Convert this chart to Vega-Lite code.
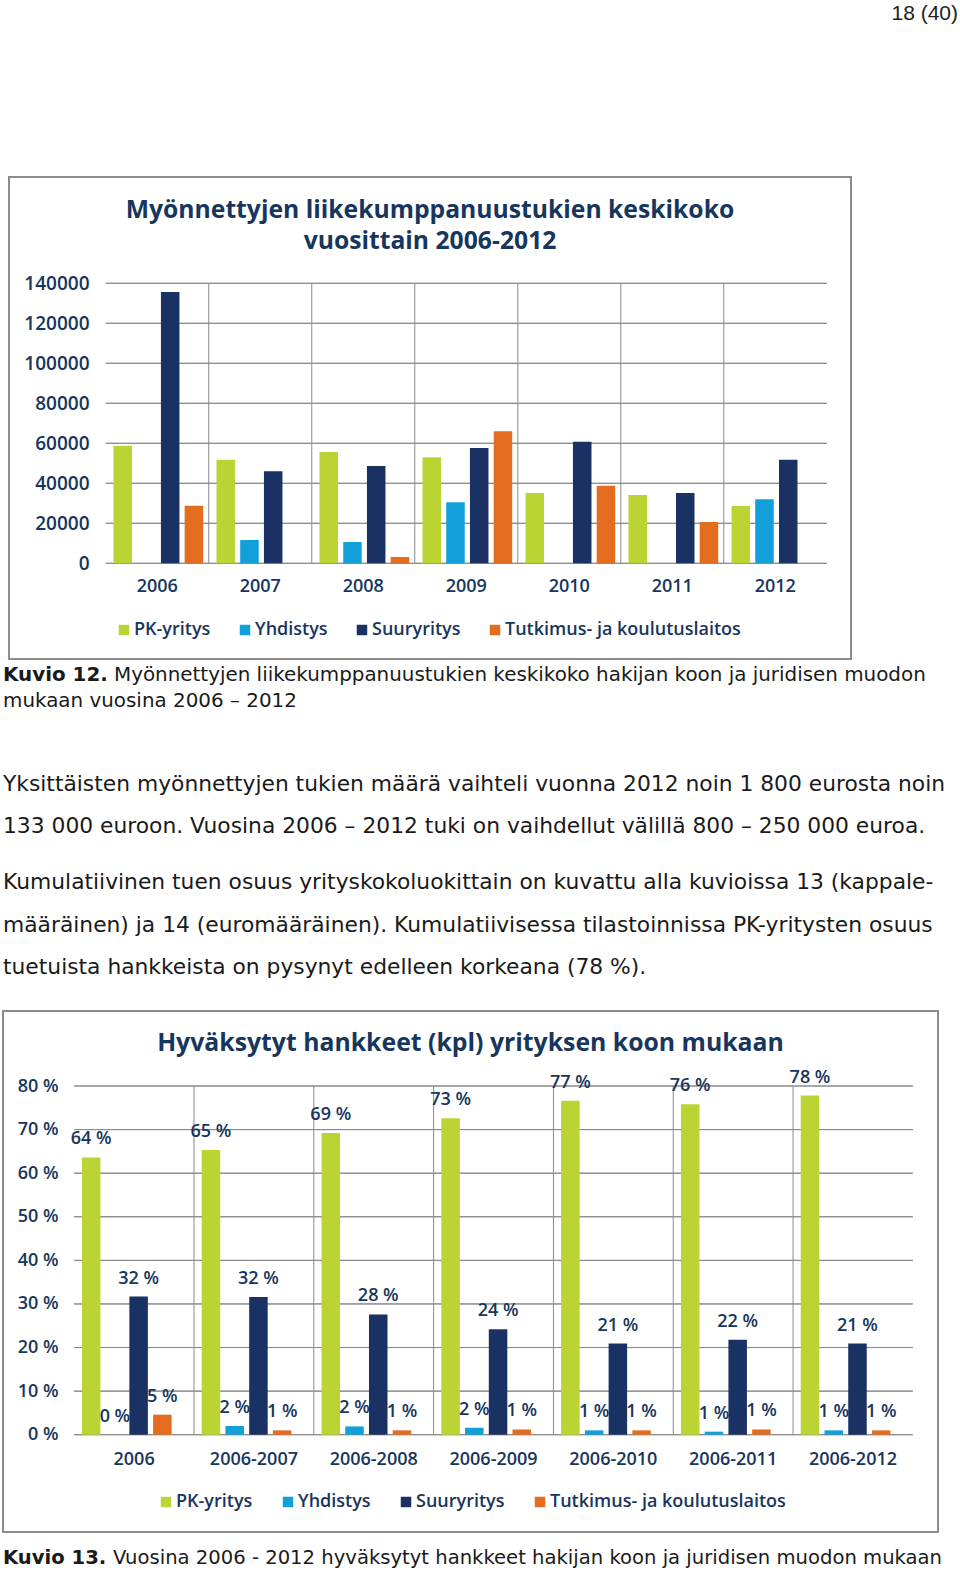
{
  "$schema": "https://vega.github.io/schema/vega-lite/v6.json",
  "background": "white",
  "padding": {"left": 2, "top": 3, "right": 3, "bottom": 0},
  "spacing": 0,
  "resolve": {"scale": {"color": "independent", "x": "independent", "y": "independent"}, "legend": {"color": "independent"}},
  "config": {
    "view": {"stroke": null},
    "concat": {"spacing": 0},
    "title": {"offset": 0}
  },
  "datasets": {
    "c1": [
      {"year": "2006", "s": "PK-yritys", "v": 58800},
      {"year": "2006", "s": "Yhdistys", "v": 0},
      {"year": "2006", "s": "Suuryritys", "v": 135650},
      {"year": "2006", "s": "Tutkimus- ja koulutuslaitos", "v": 28800},
      {"year": "2007", "s": "PK-yritys", "v": 51800},
      {"year": "2007", "s": "Yhdistys", "v": 11650},
      {"year": "2007", "s": "Suuryritys", "v": 46000},
      {"year": "2007", "s": "Tutkimus- ja koulutuslaitos", "v": 0},
      {"year": "2008", "s": "PK-yritys", "v": 55650},
      {"year": "2008", "s": "Yhdistys", "v": 10650},
      {"year": "2008", "s": "Suuryritys", "v": 48650},
      {"year": "2008", "s": "Tutkimus- ja koulutuslaitos", "v": 3150},
      {"year": "2009", "s": "PK-yritys", "v": 53000},
      {"year": "2009", "s": "Yhdistys", "v": 30500},
      {"year": "2009", "s": "Suuryritys", "v": 57650},
      {"year": "2009", "s": "Tutkimus- ja koulutuslaitos", "v": 66000},
      {"year": "2010", "s": "PK-yritys", "v": 35150},
      {"year": "2010", "s": "Yhdistys", "v": 0},
      {"year": "2010", "s": "Suuryritys", "v": 60800},
      {"year": "2010", "s": "Tutkimus- ja koulutuslaitos", "v": 38800},
      {"year": "2011", "s": "PK-yritys", "v": 34150},
      {"year": "2011", "s": "Yhdistys", "v": 0},
      {"year": "2011", "s": "Suuryritys", "v": 35150},
      {"year": "2011", "s": "Tutkimus- ja koulutuslaitos", "v": 20650},
      {"year": "2012", "s": "PK-yritys", "v": 28650},
      {"year": "2012", "s": "Yhdistys", "v": 32000},
      {"year": "2012", "s": "Suuryritys", "v": 51800},
      {"year": "2012", "s": "Tutkimus- ja koulutuslaitos", "v": 0}
    ],
    "c1g": [
      {"year": "2006", "vals": [0, 20000, 40000, 60000, 80000, 100000, 120000, 140000]},
      {"year": "2007", "vals": [0, 20000, 40000, 60000, 80000, 100000, 120000, 140000]},
      {"year": "2008", "vals": [0, 20000, 40000, 60000, 80000, 100000, 120000, 140000]},
      {"year": "2009", "vals": [0, 20000, 40000, 60000, 80000, 100000, 120000, 140000]},
      {"year": "2010", "vals": [0, 20000, 40000, 60000, 80000, 100000, 120000, 140000]},
      {"year": "2011", "vals": [0, 20000, 40000, 60000, 80000, 100000, 120000, 140000]},
      {"year": "2012", "vals": [0, 20000, 40000, 60000, 80000, 100000, 120000, 140000]}
    ],
    "c2": [
      {"g": "2006", "s": "PK-yritys", "v": 63.6, "lab": "64 %"},
      {"g": "2006", "s": "Yhdistys", "v": 0, "lab": "0 %"},
      {"g": "2006", "s": "Suuryritys", "v": 31.7, "lab": "32 %"},
      {"g": "2006", "s": "Tutkimus- ja koulutuslaitos", "v": 4.6, "lab": "5 %"},
      {"g": "2006-2007", "s": "PK-yritys", "v": 65.3, "lab": "65 %"},
      {"g": "2006-2007", "s": "Yhdistys", "v": 2.0, "lab": "2 %"},
      {"g": "2006-2007", "s": "Suuryritys", "v": 31.6, "lab": "32 %"},
      {"g": "2006-2007", "s": "Tutkimus- ja koulutuslaitos", "v": 1.0, "lab": "1 %"},
      {"g": "2006-2008", "s": "PK-yritys", "v": 69.2, "lab": "69 %"},
      {"g": "2006-2008", "s": "Yhdistys", "v": 1.9, "lab": "2 %"},
      {"g": "2006-2008", "s": "Suuryritys", "v": 27.6, "lab": "28 %"},
      {"g": "2006-2008", "s": "Tutkimus- ja koulutuslaitos", "v": 1.0, "lab": "1 %"},
      {"g": "2006-2009", "s": "PK-yritys", "v": 72.6, "lab": "73 %"},
      {"g": "2006-2009", "s": "Yhdistys", "v": 1.6, "lab": "2 %"},
      {"g": "2006-2009", "s": "Suuryritys", "v": 24.2, "lab": "24 %"},
      {"g": "2006-2009", "s": "Tutkimus- ja koulutuslaitos", "v": 1.2, "lab": "1 %"},
      {"g": "2006-2010", "s": "PK-yritys", "v": 76.6, "lab": "77 %"},
      {"g": "2006-2010", "s": "Yhdistys", "v": 1.0, "lab": "1 %"},
      {"g": "2006-2010", "s": "Suuryritys", "v": 20.9, "lab": "21 %"},
      {"g": "2006-2010", "s": "Tutkimus- ja koulutuslaitos", "v": 1.0, "lab": "1 %"},
      {"g": "2006-2011", "s": "PK-yritys", "v": 75.8, "lab": "76 %"},
      {"g": "2006-2011", "s": "Yhdistys", "v": 0.7, "lab": "1 %"},
      {"g": "2006-2011", "s": "Suuryritys", "v": 21.8, "lab": "22 %"},
      {"g": "2006-2011", "s": "Tutkimus- ja koulutuslaitos", "v": 1.2, "lab": "1 %"},
      {"g": "2006-2012", "s": "PK-yritys", "v": 77.8, "lab": "78 %"},
      {"g": "2006-2012", "s": "Yhdistys", "v": 1.0, "lab": "1 %"},
      {"g": "2006-2012", "s": "Suuryritys", "v": 20.9, "lab": "21 %"},
      {"g": "2006-2012", "s": "Tutkimus- ja koulutuslaitos", "v": 1.0, "lab": "1 %"}
    ],
    "c2g": [
      {"g": "2006", "vals": [0, 10, 20, 30, 40, 50, 60, 70, 80]},
      {"g": "2006-2007", "vals": [0, 10, 20, 30, 40, 50, 60, 70, 80]},
      {"g": "2006-2008", "vals": [0, 10, 20, 30, 40, 50, 60, 70, 80]},
      {"g": "2006-2009", "vals": [0, 10, 20, 30, 40, 50, 60, 70, 80]},
      {"g": "2006-2010", "vals": [0, 10, 20, 30, 40, 50, 60, 70, 80]},
      {"g": "2006-2011", "vals": [0, 10, 20, 30, 40, 50, 60, 70, 80]},
      {"g": "2006-2012", "vals": [0, 10, 20, 30, 40, 50, 60, 70, 80]}
    ]
  },
  "vconcat": [
    {
      "width": 955, "height": 152,
      "data": {"values": []},
      "mark": "text",
      "title": {"text": "18 (40)", "anchor": "end", "frame": "group", "orient": "top", "offset": 0, "font": "Liberation Sans", "fontSize": 21, "fontWeight": "normal", "color": "#222222"}
    },
    {
      "spacing": 4,
      "hconcat": [
        {"width": 1, "height": 1, "data": {"values": []}, "mark": "text"},
        {
          "width": 842, "height": 482,
          "view": {"stroke": "#8C8C8C", "strokeWidth": 2},
          "title": {"text": ["Myönnettyjen liikekumppanuustukien keskikoko", "vuosittain 2006-2012"], "anchor": "middle", "frame": "group", "offset": -77, "font": "Open Sans", "fontSize": 24.7, "fontWeight": "bold", "color": "#17365D", "lineHeight": 31},
          "layer": [
            {
              "data": {"name": "c1g"},
              "transform": [{"flatten": ["vals"]}],
              "mark": {"type": "rect", "fill": null, "stroke": "#8A8A8A", "strokeWidth": 1},
              "encoding": {
                "x": {"field": "year", "type": "nominal", "title": null,
                  "scale": {"domain": ["2006", "2007", "2008", "2009", "2010", "2011", "2012"], "paddingInner": 0, "paddingOuter": 0.587, "align": 0.8},
                  "axis": {"orient": "bottom", "offset": -82, "domain": false, "ticks": false, "grid": false, "labelPadding": 0, "labelAngle": 0, "labelFont": "Open Sans", "labelFontSize": 18, "labelFontWeight": 600, "labelColor": "#17365D"}},
                "y": {"field": "vals", "type": "quantitative", "title": null,
                  "scale": {"domain": [-47850, 193150], "nice": false},
                  "axis": {"values": [0, 20000, 40000, 60000, 80000, 100000, 120000, 140000], "format": "d", "offset": -80, "domain": false, "ticks": false, "grid": false, "labelPadding": 0, "labelFont": "Open Sans", "labelFontSize": 19, "labelFontWeight": 600, "labelColor": "#17365D"}},
                "y2": {"field": "vals"}
              }
            },
            {
              "data": {"name": "c1g"},
              "transform": [{"filter": "datum.year !== '2006'"}],
              "mark": {"type": "rule", "stroke": "#8A8A8A", "strokeWidth": 1},
              "encoding": {
                "x": {"field": "year", "type": "nominal", "bandPosition": 0, "title": null,
                  "scale": {"domain": ["2006", "2007", "2008", "2009", "2010", "2011", "2012"], "paddingInner": 0, "paddingOuter": 0.587, "align": 0.8},
                  "axis": {"orient": "bottom", "offset": -82, "domain": false, "ticks": false, "grid": false, "labelPadding": 0, "labelAngle": 0, "labelFont": "Open Sans", "labelFontSize": 18, "labelFontWeight": 600, "labelColor": "#17365D"}},
                "y": {"datum": 0, "type": "quantitative", "title": null,
                  "scale": {"domain": [-47850, 193150], "nice": false},
                  "axis": {"values": [0, 20000, 40000, 60000, 80000, 100000, 120000, 140000], "format": "d", "offset": -80, "domain": false, "ticks": false, "grid": false, "labelPadding": 0, "labelFont": "Open Sans", "labelFontSize": 19, "labelFontWeight": 600, "labelColor": "#17365D"}},
                "y2": {"datum": 140000}
              }
            },
            {
              "data": {"name": "c1"},
              "mark": {"type": "bar"},
              "encoding": {
                "x": {"field": "year", "type": "nominal", "title": null,
                  "scale": {"domain": ["2006", "2007", "2008", "2009", "2010", "2011", "2012"], "paddingInner": 0, "paddingOuter": 0.587, "align": 0.8},
                  "axis": {"orient": "bottom", "offset": -82, "domain": false, "ticks": false, "grid": false, "labelPadding": 0, "labelAngle": 0, "labelFont": "Open Sans", "labelFontSize": 18, "labelFontWeight": 600, "labelColor": "#17365D"}},
                "xOffset": {"field": "s", "type": "nominal", "scale": {"domain": ["PK-yritys", "Yhdistys", "Suuryritys", "Tutkimus- ja koulutuslaitos"], "paddingInner": 0.22, "paddingOuter": 0.28, "align": 0.58}},
                "y": {"field": "v", "type": "quantitative", "title": null,
                  "scale": {"domain": [-47850, 193150], "nice": false},
                  "axis": {"values": [0, 20000, 40000, 60000, 80000, 100000, 120000, 140000], "format": "d", "offset": -80, "domain": false, "ticks": false, "grid": false, "labelPadding": 0, "labelFont": "Open Sans", "labelFontSize": 19, "labelFontWeight": 600, "labelColor": "#17365D"}},
                "color": {"field": "s", "type": "nominal",
                  "scale": {"domain": ["PK-yritys", "Yhdistys", "Suuryritys", "Tutkimus- ja koulutuslaitos"], "range": ["#BBD433", "#12A0DA", "#1A3263", "#E46C1E"]},
                  "legend": {"orient": "none", "legendX": 112, "legendY": 444, "direction": "horizontal", "title": null, "symbolType": "square", "symbolSize": 110, "symbolStrokeWidth": 0, "labelFont": "Open Sans", "labelFontSize": 18, "labelFontWeight": 600, "labelColor": "#17365D", "labelLimit": 400, "columnPadding": 25, "labelOffset": 1, "padding": 0}}
              }
            }
          ]
        }
      ]
    },
    {
      "spacing": 6,
      "hconcat": [
        {"width": 1, "height": 5, "data": {"values": []}, "mark": "text",
          "title": {"text": "Kuvio 12.", "orient": "bottom", "anchor": "start", "frame": "group", "offset": 0, "font": "DejaVu Sans", "fontSize": 19.9, "fontWeight": "bold", "color": "#1a1a1a"}},
        {"width": 1, "height": 5, "data": {"values": []}, "mark": "text",
          "title": {"text": "Myönnettyjen liikekumppanuustukien keskikoko hakijan koon ja juridisen muodon", "orient": "bottom", "anchor": "start", "frame": "group", "offset": 0, "font": "DejaVu Sans", "fontSize": 19.9, "fontWeight": "normal", "color": "#1a1a1a"}}
      ]
    },
    {
      "width": 1, "height": 5.5, "data": {"values": []}, "mark": "text",
      "title": {"text": "mukaan vuosina 2006 – 2012", "orient": "bottom", "anchor": "start", "frame": "group", "offset": 0, "font": "DejaVu Sans", "fontSize": 19.9, "fontWeight": "normal", "color": "#1a1a1a"}
    },
    {
      "width": 1, "height": 63, "data": {"values": []}, "mark": "text",
      "title": {
        "text": ["Yksittäisten myönnettyjen tukien määrä vaihteli vuonna 2012 noin 1 800 eurosta noin", "133 000 euroon. Vuosina 2006 – 2012 tuki on vaihdellut välillä 800 – 250 000 euroa."],
        "subtitle": ["Kumulatiivinen tuen osuus yrityskokoluokittain on kuvattu alla kuvioissa 13 (kappale-", "määräinen) ja 14 (euromääräinen). Kumulatiivisessa tilastoinnissa PK-yritysten osuus", "tuetuista hankkeista on pysynyt edelleen korkeana (78 %)."],
        "orient": "bottom", "anchor": "start", "frame": "group", "offset": 0,
        "font": "DejaVu Sans", "fontSize": 21.8, "fontWeight": "normal", "color": "#1a1a1a", "lineHeight": 42,
        "subtitleFont": "DejaVu Sans", "subtitleFontSize": 21.8, "subtitleFontWeight": "normal", "subtitleColor": "#1a1a1a", "subtitleLineHeight": 42.5, "subtitlePadding": 34.3
      }
    },
    {"width": 1, "height": 31, "data": {"values": []}, "mark": "text"},
    {
      "width": 935, "height": 521,
      "view": {"stroke": "#8C8C8C", "strokeWidth": 2},
      "title": {"text": "Hyväksytyt hankkeet (kpl) yrityksen koon mukaan", "anchor": "middle", "frame": "group", "offset": -45, "font": "Open Sans", "fontSize": 24.8, "fontWeight": "bold", "color": "#17365D"},
      "layer": [
        {
          "data": {"name": "c2g"},
          "transform": [{"flatten": ["vals"]}],
          "mark": {"type": "rect", "fill": null, "stroke": "#8A8A8A", "strokeWidth": 1},
          "encoding": {
            "x": {"field": "g", "type": "nominal", "title": null,
              "scale": {"domain": ["2006", "2006-2007", "2006-2008", "2006-2009", "2006-2010", "2006-2011", "2006-2012"], "paddingInner": 0, "paddingOuter": 0.402, "align": 0.739},
              "axis": {"orient": "bottom", "offset": -82, "domain": false, "ticks": false, "grid": false, "labelPadding": 0, "labelAngle": 0, "labelFont": "Open Sans", "labelFontSize": 18, "labelFontWeight": 600, "labelColor": "#17365D"}},
            "y": {"field": "vals", "type": "quantitative", "title": null,
              "scale": {"domain": [-22.32, 97.21], "nice": false},
              "axis": {"values": [0, 10, 20, 30, 40, 50, 60, 70, 80], "labelExpr": "datum.value + ' %'", "offset": -55, "domain": false, "ticks": false, "grid": false, "labelPadding": 0, "labelFont": "Open Sans", "labelFontSize": 18, "labelFontWeight": 600, "labelColor": "#17365D"}},
            "y2": {"field": "vals"}
          }
        },
        {
          "data": {"name": "c2g"},
          "transform": [{"filter": "datum.g !== '2006'"}],
          "mark": {"type": "rule", "stroke": "#8A8A8A", "strokeWidth": 1},
          "encoding": {
            "x": {"field": "g", "type": "nominal", "bandPosition": 0, "title": null,
              "scale": {"domain": ["2006", "2006-2007", "2006-2008", "2006-2009", "2006-2010", "2006-2011", "2006-2012"], "paddingInner": 0, "paddingOuter": 0.402, "align": 0.739},
              "axis": {"orient": "bottom", "offset": -82, "domain": false, "ticks": false, "grid": false, "labelPadding": 0, "labelAngle": 0, "labelFont": "Open Sans", "labelFontSize": 18, "labelFontWeight": 600, "labelColor": "#17365D"}},
            "y": {"datum": 0, "type": "quantitative", "title": null,
              "scale": {"domain": [-22.32, 97.21], "nice": false},
              "axis": {"values": [0, 10, 20, 30, 40, 50, 60, 70, 80], "labelExpr": "datum.value + ' %'", "offset": -55, "domain": false, "ticks": false, "grid": false, "labelPadding": 0, "labelFont": "Open Sans", "labelFontSize": 18, "labelFontWeight": 600, "labelColor": "#17365D"}},
            "y2": {"datum": 80}
          }
        },
        {
          "data": {"name": "c2"},
          "mark": {"type": "bar"},
          "encoding": {
            "x": {"field": "g", "type": "nominal", "title": null,
              "scale": {"domain": ["2006", "2006-2007", "2006-2008", "2006-2009", "2006-2010", "2006-2011", "2006-2012"], "paddingInner": 0, "paddingOuter": 0.402, "align": 0.739},
              "axis": {"orient": "bottom", "offset": -82, "domain": false, "ticks": false, "grid": false, "labelPadding": 0, "labelAngle": 0, "labelFont": "Open Sans", "labelFontSize": 18, "labelFontWeight": 600, "labelColor": "#17365D"}},
            "xOffset": {"field": "s", "type": "nominal", "scale": {"domain": ["PK-yritys", "Yhdistys", "Suuryritys", "Tutkimus- ja koulutuslaitos"], "paddingInner": 0.2, "paddingOuter": 0.32, "align": 0.55}},
            "y": {"field": "v", "type": "quantitative", "title": null,
              "scale": {"domain": [-22.32, 97.21], "nice": false},
              "axis": {"values": [0, 10, 20, 30, 40, 50, 60, 70, 80], "labelExpr": "datum.value + ' %'", "offset": -55, "domain": false, "ticks": false, "grid": false, "labelPadding": 0, "labelFont": "Open Sans", "labelFontSize": 18, "labelFontWeight": 600, "labelColor": "#17365D"}},
            "color": {"field": "s", "type": "nominal",
              "scale": {"domain": ["PK-yritys", "Yhdistys", "Suuryritys", "Tutkimus- ja koulutuslaitos"], "range": ["#BBD433", "#12A0DA", "#1A3263", "#E46C1E"]},
              "legend": {"orient": "none", "legendX": 154, "legendY": 482, "direction": "horizontal", "title": null, "symbolType": "square", "symbolSize": 110, "symbolStrokeWidth": 0, "labelFont": "Open Sans", "labelFontSize": 18, "labelFontWeight": 600, "labelColor": "#17365D", "labelLimit": 400, "columnPadding": 26, "labelOffset": 1, "padding": 0}}
          }
        },
        {
          "data": {"name": "c2"},
          "mark": {"type": "text", "baseline": "alphabetic", "dy": -13, "font": "Open Sans", "fontSize": 18, "fontWeight": 600, "color": "#17365D"},
          "encoding": {
            "x": {"field": "g", "type": "nominal", "title": null,
              "scale": {"domain": ["2006", "2006-2007", "2006-2008", "2006-2009", "2006-2010", "2006-2011", "2006-2012"], "paddingInner": 0, "paddingOuter": 0.402, "align": 0.739},
              "axis": {"orient": "bottom", "offset": -82, "domain": false, "ticks": false, "grid": false, "labelPadding": 0, "labelAngle": 0, "labelFont": "Open Sans", "labelFontSize": 18, "labelFontWeight": 600, "labelColor": "#17365D"}},
            "xOffset": {"field": "s", "type": "nominal", "scale": {"domain": ["PK-yritys", "Yhdistys", "Suuryritys", "Tutkimus- ja koulutuslaitos"], "paddingInner": 0.2, "paddingOuter": 0.32, "align": 0.55}},
            "y": {"field": "v", "type": "quantitative", "title": null,
              "scale": {"domain": [-22.32, 97.21], "nice": false},
              "axis": {"values": [0, 10, 20, 30, 40, 50, 60, 70, 80], "labelExpr": "datum.value + ' %'", "offset": -55, "domain": false, "ticks": false, "grid": false, "labelPadding": 0, "labelFont": "Open Sans", "labelFontSize": 18, "labelFontWeight": 600, "labelColor": "#17365D"}},
            "text": {"field": "lab"}
          }
        }
      ]
    },
    {
      "spacing": 6,
      "hconcat": [
        {"width": 1, "height": 16, "data": {"values": []}, "mark": "text",
          "title": {"text": "Kuvio 13.", "orient": "bottom", "anchor": "start", "frame": "group", "offset": 0, "font": "DejaVu Sans", "fontSize": 19.6, "fontWeight": "bold", "color": "#1a1a1a"}},
        {"width": 1, "height": 16, "data": {"values": []}, "mark": "text",
          "title": {"text": "Vuosina 2006 - 2012 hyväksytyt hankkeet hakijan koon ja juridisen muodon mukaan", "orient": "bottom", "anchor": "start", "frame": "group", "offset": 0, "font": "DejaVu Sans", "fontSize": 19.6, "fontWeight": "normal", "color": "#1a1a1a"}}
      ]
    }
  ]
}
